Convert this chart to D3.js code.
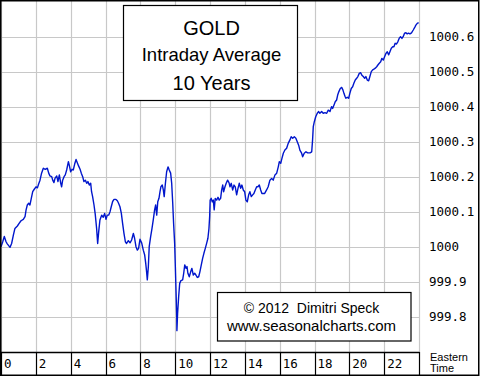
<!DOCTYPE html>
<html>
<head>
<meta charset="utf-8">
<script src="https://cdn.jsdelivr.net/npm/d3@7"></script>
<style>
  body { margin: 0; background: #fff; }
</style>
</head>
<body>
<script>
// hours of the trading day (Eastern Time) and the 10 year intraday average
const hours = [
  0.00, 0.10, 0.19, 0.29, 0.36, 0.52, 0.61, 0.71, 0.80, 0.94, 1.05, 1.15, 1.28, 1.38, 1.44, 1.51,
  1.59, 1.66, 1.74, 1.82, 1.91, 2.01, 2.09, 2.16, 2.24, 2.33, 2.43, 2.54, 2.66, 2.74, 2.81, 2.91,
  2.97, 3.04, 3.10, 3.20, 3.27, 3.35, 3.43, 3.48, 3.54, 3.62, 3.69, 3.77, 3.87, 3.92, 4.00, 4.08,
  4.15, 4.23, 4.31, 4.38, 4.46, 4.54, 4.61, 4.69, 4.76, 4.84, 4.92, 4.99, 5.07, 5.15, 5.20, 5.26,
  5.34, 5.41, 5.49, 5.55, 5.61, 5.68, 5.78, 5.87, 5.95, 6.03, 6.10, 6.18, 6.26, 6.33, 6.41, 6.49,
  6.60, 6.68, 6.75, 6.83, 6.91, 6.98, 7.06, 7.14, 7.21, 7.31, 7.41, 7.50, 7.60, 7.67, 7.75, 7.83,
  7.90, 7.98, 8.08, 8.17, 8.25, 8.31, 8.36, 8.40, 8.46, 8.51, 8.59, 8.67, 8.74, 8.82, 8.88, 8.94,
  9.00, 9.07, 9.13, 9.18, 9.26, 9.32, 9.37, 9.43, 9.51, 9.59, 9.66, 9.74, 9.80, 9.86, 9.91, 9.97,
  10.01, 10.05, 10.09, 10.10, 10.14, 10.20, 10.26, 10.33, 10.43, 10.49, 10.55, 10.62, 10.68, 10.73, 10.81, 10.89,
  10.96, 11.04, 11.12, 11.19, 11.27, 11.35, 11.42, 11.50, 11.58, 11.65, 11.73, 11.81, 11.88, 11.94, 11.98, 12.01,
  12.07, 12.13, 12.19, 12.24, 12.30, 12.38, 12.46, 12.53, 12.61, 12.67, 12.73, 12.78, 12.86, 12.93, 13.01, 13.09,
  13.15, 13.22, 13.30, 13.38, 13.45, 13.53, 13.61, 13.68, 13.76, 13.83, 13.91, 13.99, 14.06, 14.14, 14.22, 14.29,
  14.37, 14.45, 14.52, 14.60, 14.68, 14.75, 14.83, 14.91, 14.98, 15.14, 15.25, 15.34, 15.44, 15.54, 15.63, 15.73,
  15.83, 15.92, 15.98, 16.06, 16.13, 16.21, 16.30, 16.40, 16.49, 16.59, 16.66, 16.75, 16.84, 16.93, 17.01, 17.09,
  17.16, 17.26, 17.32, 17.41, 17.51, 17.61, 17.74, 17.84, 17.89, 17.93, 17.99, 18.07, 18.16, 18.24, 18.31, 18.41,
  18.50, 18.60, 18.70, 18.79, 18.89, 18.98, 19.04, 19.12, 19.19, 19.27, 19.33, 19.40, 19.48, 19.56, 19.63, 19.69,
  19.75, 19.80, 19.88, 19.96, 20.03, 20.11, 20.19, 20.26, 20.34, 20.42, 20.49, 20.57, 20.65, 20.72, 20.80, 20.88,
  20.95, 21.03, 21.11, 21.18, 21.26, 21.34, 21.41, 21.49, 21.57, 21.64, 21.72, 21.80, 21.87, 21.95, 22.03, 22.10,
  22.18, 22.26, 22.33, 22.41, 22.49, 22.56, 22.63, 22.71, 22.79, 22.86, 22.94, 23.02, 23.09, 23.17, 23.25, 23.32,
  23.40, 23.48, 23.57, 23.67, 23.77, 23.82, 23.90, 23.98
];
const prices = [
  1000.001, 1000.015, 1000.030, 1000.015, 1000.009, 999.999, 1000.010, 1000.034, 1000.053, 1000.060, 1000.068, 1000.075, 1000.079, 1000.087, 1000.106, 1000.120,
  1000.125, 1000.120, 1000.139, 1000.158, 1000.165, 1000.172, 1000.169, 1000.180, 1000.191, 1000.211, 1000.225, 1000.222, 1000.225, 1000.211, 1000.203, 1000.201,
  1000.191, 1000.184, 1000.196, 1000.203, 1000.187, 1000.206, 1000.182, 1000.172, 1000.191, 1000.201, 1000.206, 1000.220, 1000.244, 1000.234, 1000.215, 1000.222,
  1000.220, 1000.237, 1000.250, 1000.241, 1000.231, 1000.222, 1000.211, 1000.201, 1000.187, 1000.191, 1000.182, 1000.187, 1000.177, 1000.182, 1000.158, 1000.144,
  1000.120, 1000.094, 1000.053, 1000.010, 1000.044, 1000.077, 1000.091, 1000.085, 1000.096, 1000.079, 1000.091, 1000.091, 1000.101, 1000.115, 1000.130, 1000.136,
  1000.136, 1000.132, 1000.125, 1000.115, 1000.096, 1000.068, 1000.039, 1000.015, 1000.010, 1000.018, 1000.012, 1000.020, 1000.039, 1000.025, 1000.001, 999.991,
  999.996, 1000.022, 1000.011, 999.991, 999.977, 999.953, 999.929, 999.906, 999.944, 1000.001, 1000.029, 1000.053, 1000.077, 1000.106, 1000.120, 1000.091,
  1000.129, 1000.139, 1000.158, 1000.172, 1000.177, 1000.163, 1000.144, 1000.177, 1000.215, 1000.229, 1000.220, 1000.211, 1000.182, 1000.125, 1000.068, 1000.011,
  999.944, 999.872, 999.801, 999.761, 999.811, 999.858, 999.896, 999.904, 999.906, 999.925, 999.949, 999.939, 999.944, 999.925, 999.915, 999.929,
  999.939, 999.920, 999.925, 999.920, 999.913, 999.915, 999.929, 999.949, 999.968, 999.982, 999.996, 1000.011, 1000.025, 1000.053, 1000.087, 1000.134,
  1000.139, 1000.129, 1000.134, 1000.106, 1000.139, 1000.134, 1000.142, 1000.134, 1000.139, 1000.163, 1000.177, 1000.158, 1000.172, 1000.182, 1000.191, 1000.184,
  1000.172, 1000.182, 1000.163, 1000.177, 1000.172, 1000.149, 1000.168, 1000.182, 1000.168, 1000.177, 1000.163, 1000.158, 1000.134, 1000.129, 1000.149, 1000.158,
  1000.144, 1000.149, 1000.153, 1000.163, 1000.172, 1000.172, 1000.177, 1000.163, 1000.153, 1000.153, 1000.163, 1000.172, 1000.191, 1000.196, 1000.191, 1000.206,
  1000.211, 1000.229, 1000.244, 1000.239, 1000.253, 1000.268, 1000.277, 1000.282, 1000.296, 1000.306, 1000.315, 1000.311, 1000.315, 1000.311, 1000.301, 1000.291,
  1000.277, 1000.268, 1000.258, 1000.268, 1000.272, 1000.269, 1000.269, 1000.272, 1000.306, 1000.344, 1000.358, 1000.372, 1000.382, 1000.387, 1000.382, 1000.387,
  1000.382, 1000.384, 1000.382, 1000.391, 1000.387, 1000.401, 1000.396, 1000.406, 1000.415, 1000.420, 1000.434, 1000.444, 1000.453, 1000.456, 1000.449, 1000.439,
  1000.431, 1000.425, 1000.428, 1000.425, 1000.439, 1000.453, 1000.458, 1000.468, 1000.477, 1000.482, 1000.487, 1000.496, 1000.498, 1000.491, 1000.487, 1000.482,
  1000.487, 1000.477, 1000.475, 1000.487, 1000.501, 1000.506, 1000.508, 1000.511, 1000.515, 1000.520, 1000.525, 1000.529, 1000.539, 1000.534, 1000.544, 1000.553,
  1000.558, 1000.549, 1000.558, 1000.568, 1000.572, 1000.572, 1000.582, 1000.580, 1000.587, 1000.596, 1000.601, 1000.596, 1000.601, 1000.611, 1000.612, 1000.609,
  1000.611, 1000.609, 1000.612, 1000.620, 1000.629, 1000.634, 1000.639, 1000.641
];

const hourTicks = [0, 2, 4, 6, 8, 10, 12, 14, 16, 18, 20, 22];
const priceTicks = [999.8, 999.9, 1000, 1000.1, 1000.2, 1000.3, 1000.4, 1000.5, 1000.6];
const priceLabels = ["999.8", "999.9", "1000", "1000.1", "1000.2", "1000.3", "1000.4", "1000.5", "1000.6"];
const titleLines = ["GOLD", "Intraday Average", "10 Years"];
const creditLines = ["\u00a9 2012\u00a0 Dimitri Speck", "www.seasonalcharts.com"];
const timeLabel = ["Eastern", "Time"];

const width = 480;
const height = 376;
const plot = { left: 1, right: 419, top: 0, bottom: 352 };

const data = hours.map((h, i) => ({ hour: h, price: prices[i] }));

const svg = d3.select("body")
  .append("svg")
  .attr("width", width)
  .attr("height", height);

svg.append("rect")
  .attr("width", width)
  .attr("height", height)
  .attr("fill", "#fff");

const x = d3.scaleLinear().domain([0, 24]).range([plot.left, plot.right]);
const y = d3.scaleLinear().domain([999.7, 1000.7]).range([plot.bottom, 2]);

const px = (v) => Math.round(v) + 0.5;

// grid
const grid = svg.append("g").attr("stroke", "#c8c8c8").attr("stroke-width", 1.2);
grid.selectAll(".vgrid")
  .data(hourTicks.concat([24]))
  .join("line")
  .attr("x1", (d) => px(x(d)))
  .attr("x2", (d) => px(x(d)))
  .attr("y1", plot.top)
  .attr("y2", plot.bottom);
grid.selectAll(".hgrid")
  .data(priceTicks)
  .join("line")
  .attr("x1", plot.left)
  .attr("x2", plot.right)
  .attr("y1", (d) => px(y(d)))
  .attr("y2", (d) => px(y(d)));

// price line
const line = d3.line()
  .x((d) => x(d.hour))
  .y((d) => y(d.price));

svg.append("path")
  .datum(data)
  .attr("fill", "none")
  .attr("stroke", "#0016cc")
  .attr("stroke-width", 1.4)
  .attr("stroke-linejoin", "round")
  .attr("d", line);

// x axis strip
const strip = svg.append("g");
strip.append("line")
  .attr("x1", 0).attr("x2", px(x(24)))
  .attr("y1", px(plot.bottom)).attr("y2", px(plot.bottom))
  .attr("stroke", "#000").attr("stroke-width", 1.5);
strip.selectAll(".div")
  .data(hourTicks.concat([24]))
  .join("line")
  .attr("x1", (d) => px(x(d)))
  .attr("x2", (d) => px(x(d)))
  .attr("y1", plot.bottom)
  .attr("y2", height)
  .attr("stroke", "#000")
  .attr("stroke-width", 1.2);
strip.selectAll("text")
  .data(hourTicks)
  .join("text")
  .text((d) => d)
  .attr("x", (d) => x(d) + 3)
  .attr("y", 368)
  .attr("font-family", "DejaVu Sans Mono, monospace")
  .attr("font-size", "12.5px")
  .attr("fill", "#000");

// price labels on the right
svg.append("g")
  .selectAll("text")
  .data(priceTicks)
  .join("text")
  .text((d, i) => priceLabels[i])
  .attr("x", 429)
  .attr("y", (d) => y(d) + 4)
  .attr("font-family", "DejaVu Sans Mono, monospace")
  .attr("font-size", "12.5px")
  .attr("fill", "#000");

svg.append("g")
  .selectAll("text")
  .data(timeLabel)
  .join("text")
  .text((d) => d)
  .attr("x", 430)
  .attr("y", (d, i) => 361 + i * 10.5)
  .attr("font-family", "Liberation Sans, Arial, sans-serif")
  .attr("font-size", "11px")
  .attr("fill", "#000");

// title box
svg.append("rect")
  .attr("x", 123.5).attr("y", 5.5)
  .attr("width", 174).attr("height", 95)
  .attr("fill", "#fff").attr("stroke", "#000").attr("stroke-width", 1.2);
svg.append("g")
  .selectAll("text")
  .data(titleLines)
  .join("text")
  .text((d) => d)
  .attr("x", 211.5)
  .attr("y", (d, i) => [34.5, 61, 90][i])
  .attr("text-anchor", "middle")
  .attr("font-family", "Liberation Sans, Arial, sans-serif")
  .attr("font-size", (d, i) => [20, 18.5, 20][i] + "px")
  .attr("fill", "#000");

// credit box
svg.append("rect")
  .attr("x", 217.5).attr("y", 292.5)
  .attr("width", 193.5).attr("height", 48.5)
  .attr("fill", "#fff").attr("stroke", "#000").attr("stroke-width", 1.2);
svg.append("g")
  .selectAll("text")
  .data(creditLines)
  .join("text")
  .text((d) => d)
  .attr("x", 311.5)
  .attr("y", (d, i) => [313, 330.5][i])
  .attr("text-anchor", "middle")
  .attr("font-family", "Liberation Sans, Arial, sans-serif")
  .attr("font-size", (d, i) => [14, 15][i] + "px")
  .attr("fill", "#000");

// outer frame
svg.append("rect")
  .attr("x", 0.75).attr("y", 0.75)
  .attr("width", width - 2).attr("height", height - 1.5)
  .attr("fill", "none")
  .attr("stroke", "#000")
  .attr("stroke-width", 1.5);
</script>
</body>
</html>
